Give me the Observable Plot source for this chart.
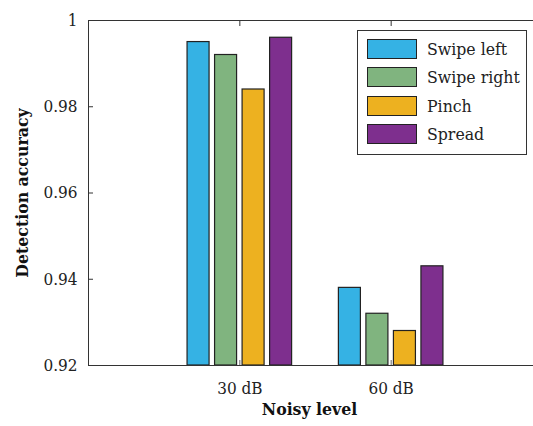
<!DOCTYPE html>
<html>
<head>
<meta charset="utf-8">
<script src="https://cdn.jsdelivr.net/npm/d3@7"></script>
<script src="https://cdn.jsdelivr.net/npm/@observablehq/plot@0.6"></script>
<style>
  html, body { margin: 0; padding: 0; background: #fff; }
  #wrap { position: relative; width: 533px; height: 426px; overflow: hidden; font-family: "DejaVu Serif Condensed", "DejaVu Serif", serif; font-stretch: condensed; }
  #wrap svg text { font-stretch: condensed; }
  #legend { position: absolute; left: 357px; top: 30px; width: 170px; height: 125px; border: 1px solid #333; background: #fff; box-sizing: border-box; padding-top: 4px; }
  .row { display: flex; align-items: center; height: 28.3px; }
  .sw { width: 50px; height: 20px; border: 1px solid #222; margin-left: 9px; margin-right: 10px; box-sizing: border-box; }
  .lab { font-size: 17.5px; color: #222; white-space: nowrap; }
</style>
</head>
<body>
<div id="wrap"></div>
<script>
const levels = ["30 dB", "60 dB"];
const series = ["Swipe left", "Swipe right", "Pinch", "Spread"];
const colors = ["#35B2E4", "#80B47F", "#EDB120", "#7E2F8E"];
const values = {
  "Swipe left":  [0.995, 0.938],
  "Swipe right": [0.992, 0.932],
  "Pinch":       [0.984, 0.928],
  "Spread":      [0.996, 0.943]
};
const yTicks = [0.92, 0.94, 0.96, 0.98, 1];
const xLabel = "Noisy level";
const yLabel = "Detection accuracy";

// MATLAB-style grouped bar geometry (in category units)
const nS = series.length;
const groupWidth = Math.min(0.8, nS / (nS + 1.5));
const barWidth = groupWidth / nS * 0.8;
const rows = [];
levels.forEach((lv, gi) => {
  series.forEach((s, si) => {
    const center = gi + 1 - groupWidth / 2 + (2 * si + 1) * groupWidth / (2 * nS);
    rows.push({level: lv, series: s, value: values[s][gi], x1: center - barWidth / 2, x2: center + barWidth / 2});
  });
});
const yMin = yTicks[0], yMax = yTicks[yTicks.length - 1];
const xPos = levels.map((d, i) => i + 1);

const chart = Plot.plot({
  width: 533,
  height: 426,
  marginLeft: 88,
  marginTop: 20,
  marginBottom: 61,
  marginRight: -9,
  style: {fontFamily: "'DejaVu Serif Condensed', 'DejaVu Serif', serif", fontSize: "17px", color: "#222", background: "#fff"},
  x: {domain: [0, levels.length + 1]},
  y: {domain: [yMin, yMax]},
  color: {domain: series, range: colors},
  marks: [
    Plot.rectY(rows, {x1: "x1", x2: "x2", y1: yMin, y2: "value", fill: "series", stroke: "#222", strokeWidth: 1.2}),
    Plot.frame({stroke: "#333", strokeWidth: 1}),
    Plot.axisY(yTicks, {anchor: "left", tickSize: -5, tickPadding: 16, tickFormat: d => String(d), label: null, stroke: "#333", fill: "#222"}),
    Plot.axisX(xPos, {anchor: "bottom", tickSize: -5, tickPadding: 21, tickFormat: d => levels[d - 1], label: null, stroke: "#666", fill: "#222"}),
    Plot.axisX(xPos, {anchor: "top", tickSize: -5, tickFormat: () => "", label: null, stroke: "#333"}),
    Plot.text([xLabel], {frameAnchor: "bottom", dy: 49, dx: -6, fontWeight: "bold", fontSize: 17.5, fill: "#111"}),
    Plot.text([yLabel], {frameAnchor: "left", textAnchor: "middle", rotate: -90, dx: -66, fontWeight: "bold", fontSize: 17.5, fill: "#111"})
  ]
});
const wrap = document.getElementById("wrap");
wrap.appendChild(chart);

const legend = document.createElement("div");
legend.id = "legend";
series.forEach((s, i) => {
  const r = document.createElement("div");
  r.className = "row";
  const sw = document.createElement("div");
  sw.className = "sw";
  sw.style.background = colors[i];
  const lb = document.createElement("span");
  lb.className = "lab";
  lb.textContent = s;
  r.appendChild(sw); r.appendChild(lb);
  legend.appendChild(r);
});
wrap.appendChild(legend);
</script>
</body>
</html>
